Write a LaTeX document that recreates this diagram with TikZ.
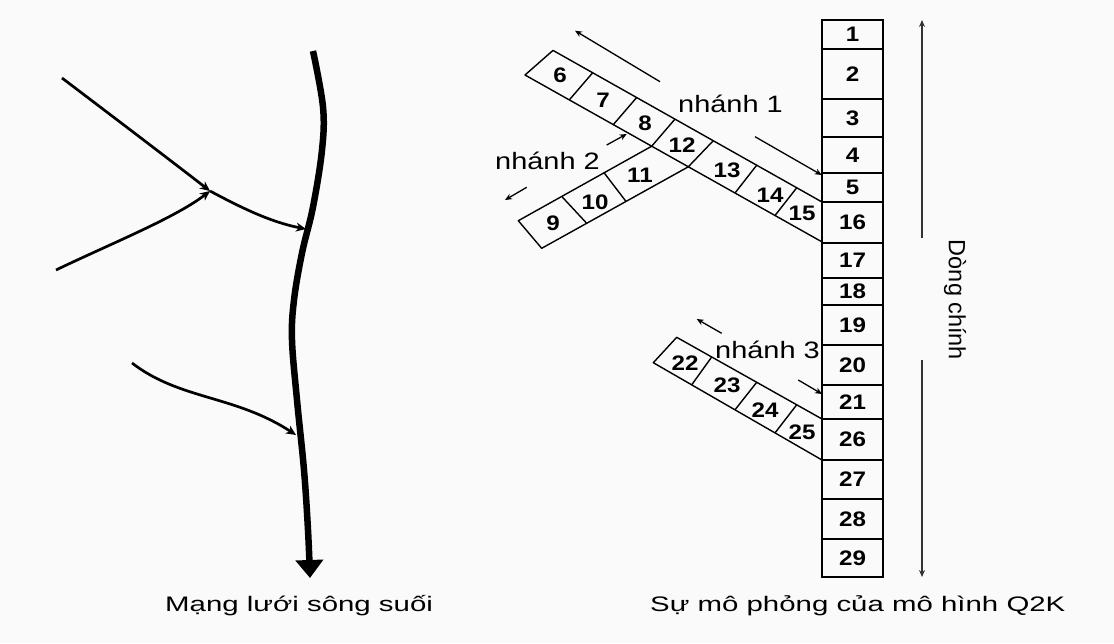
\documentclass[tikz,border=0pt]{standalone}
\usepackage{fontspec}
\setmainfont{Liberation Sans}
\newfontfamily\sofont[FakeStretch=1.15]{Liberation Sans}
\newfontfamily\nhanhfont[FakeStretch=1.22]{Liberation Sans}
\newfontfamily\chufont[FakeStretch=1.4]{Liberation Sans}
\usetikzlibrary{arrows.meta}
\definecolor{nen}{RGB}{250,250,250}

\begin{document}
\begin{tikzpicture}[x=1pt, y=-1pt,
    vien/.style={line width=1.4pt, line join=round},
    cot/.style={line width=1.8pt},
    so/.style={inner sep=0pt, font=\sofont\bfseries\fontsize{21}{21}\selectfont},
    nhan/.style={inner sep=0pt, anchor=base, font=\nhanhfont\fontsize{23.7}{24}\selectfont},
    tieude/.style={inner sep=0pt, anchor=base west, font=\chufont\fontsize{21}{21}\selectfont},
    huong/.style={line width=1.3pt, -{Stealth[length=7pt, width=6pt]}},
    truc/.style={line width=1.3pt, black!80, -{Stealth[length=7pt, width=6pt]}},
    suoi/.style={line width=2.7pt, -{Stealth[length=10pt, width=9pt]}},
    song/.style={line width=6.5pt, -{Triangle[length=18pt, width=27pt]}}]
    % nen
    \useasboundingbox (0,0) rectangle (1114,643);
    \fill[nen] (0,0) rectangle (1114,643);

    % Mang luoi song suoi
    \coordinate (dau) at (313,51);
    \coordinate (cuoi) at (310,578);
    \coordinate (ng1) at (62,78);
    \coordinate (ng2) at (56,270);
    \coordinate (ng3) at (132,363);
    \coordinate (hop) at (210,191);
    \coordinate (vao1) at (306,229);
    \coordinate (vao2) at (296,435);
    \draw[song] plot[smooth, tension=0.6] coordinates {(dau) (323,107) (322,150) (313,207) (302,253) (294,300) (292,340) (297,400) (304,470) (308,530) (cuoi)};
    \draw[suoi] (ng1) .. controls (120,122) and (170,160) .. (hop);
    \draw[suoi] (ng2) .. controls (110,244) and (175,218) .. (hop);
    \draw[suoi] (hop) .. controls (240,207) and (270,222) .. (vao1);
    \draw[suoi] (ng3) .. controls (180,400) and (235,395) .. (vao2);
    \node[tieude] (tdtrai) at (165,611) {Mạng lưới sông suối};

    % Dong chinh
    \foreach \a/\b/\n in {20/49/1, 49/99/2, 99/137/3, 137/173/4, 173/202/5, 202/243/16, 243/278/17, 278/305/18, 305/345/19, 345/385/20, 385/419/21, 419/460/26, 460/499/27, 499/539/28, 539/577/29} {
      \draw[cot] (822,\a) rectangle (883,\b);
      \node[so] (c\n) at (852.5,{(\a+\b)/2}) {\n};
    }

    % Nhanh 1
    \draw[vien] (822,202) -- (553,50.4) -- (525,75) -- (822,241.9);
    \foreach \xa/\ya/\xb/\yb in {592.7/72.7/569.3/99.9, 636.7/97.5/613.3/124.6, 675/119.1/651.7/146.2, 713.3/140.7/688.3/166.8, 756.7/165.2/735/193, 796.7/187.8/775/215.5}
      \draw[vien] (\xa,\ya) -- (\xb,\yb);
    \foreach \x/\y/\n in {560/75/6, 603/100/7, 645/123/8, 682/145/12, 727/170/13, 770/195/14, 802/213/15}
      \node[so] (c\n) at (\x,\y) {\n};

    % Nhanh 2
    \draw[vien] (651.7,146.2) -- (518.3,220.7) -- (541.7,248.3) -- (688.3,166.8);
    \draw[vien] (561.7,196.4) -- (586.7,223.3);
    \draw[vien] (604,172.7) -- (626,201.4);
    \foreach \x/\y/\n in {553/223/9, 595/202/10, 640/175/11}
      \node[so] (c\n) at (\x,\y) {\n};

    % Nhanh 3
    \draw[vien] (822,419) -- (676.7,337.3) -- (653.3,362.7) -- (822,460);
    \foreach \xa/\ya/\xb/\yb in {711.7/357/691.7/384.8, 756.7/382.3/735/409.8, 796.7/404.8/775/432.9}
      \draw[vien] (\xa,\ya) -- (\xb,\yb);
    \foreach \x/\y/\n in {685/363/22, 727/385/23, 765/410/24, 802/432/25}
      \node[so] (c\n) at (\x,\y) {\n};

    % Nhan va huong chay
    \node[nhan] (n1) at (730.5,112.7) {nhánh 1};
    \node[nhan] (n2) at (547.5,169) {nhánh 2};
    \node[nhan] (n3) at (767.5,358.3) {nhánh 3};
    \path (660,81.7) coordinate (a1) (575,30.7) coordinate (b1)
          (755,136.7) coordinate (a2) (821.7,175) coordinate (b2)
          (606.7,145) coordinate (a3) (626.7,134) coordinate (b3)
          (526.7,187.3) coordinate (a4) (505,200) coordinate (b4)
          (721.7,333.3) coordinate (a5) (696.7,319) coordinate (b5)
          (798.3,380) coordinate (a6) (822,394) coordinate (b6);
    \foreach \i in {1,...,6}
      \draw[huong] (a\i) -- (b\i);

    % Truc dong chinh
    \node[rotate=-90, inner sep=0pt, font=\fontsize{23.5}{24}\selectfont] (dc) at (955,300) {Dòng chính};
    \coordinate (dctren) at (922,238);
    \coordinate (dcdinh) at (922,20);
    \coordinate (dcduoi) at (922,360);
    \coordinate (dcday) at (922,577);
    \draw[truc] (dctren) -- (dcdinh);
    \draw[truc] (dcduoi) -- (dcday);

    \node[tieude] (tdphai) at (650,611) {Sự mô phỏng của mô hình Q2K};
\end{tikzpicture}
\end{document}
